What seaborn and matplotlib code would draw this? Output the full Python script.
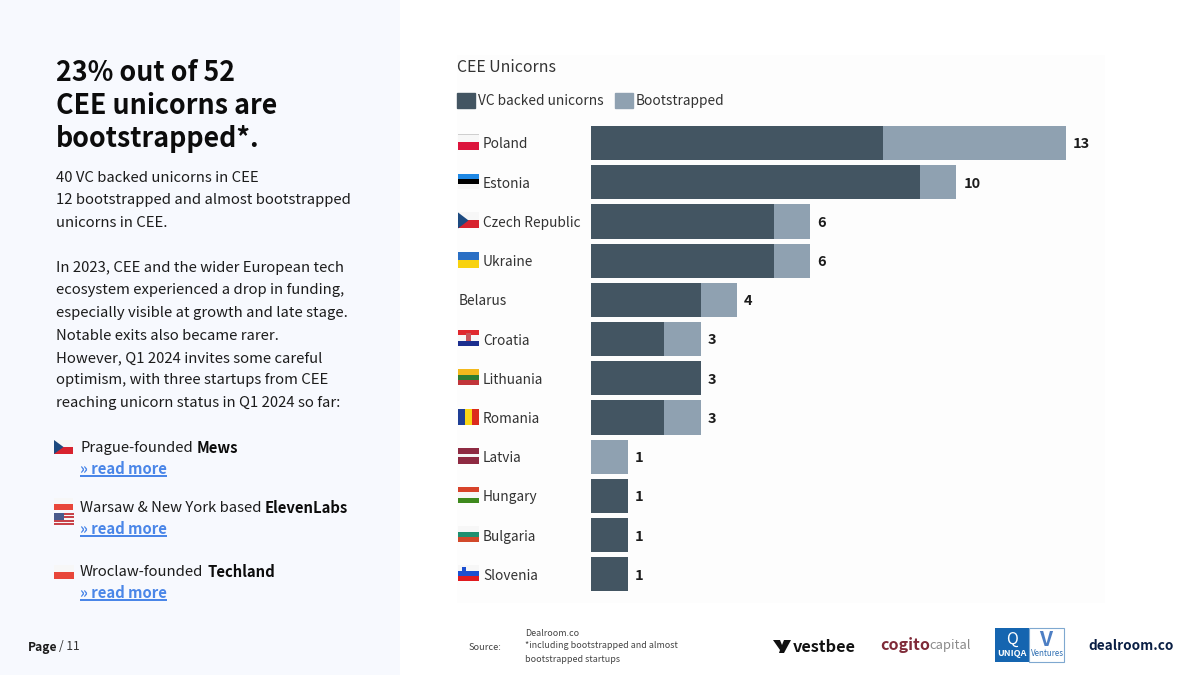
import matplotlib
matplotlib.use("Agg")
import matplotlib.pyplot as plt
from matplotlib.patches import Rectangle, Polygon, Patch
import pandas as pd
import seaborn as sns

# chart data
countries = ["Poland", "Estonia", "Czech Republic", "Ukraine", "Belarus", "Croatia",
             "Lithuania", "Romania", "Latvia", "Hungary", "Bulgaria", "Slovenia"]
vc_backed = [8, 9, 5, 5, 3, 2, 3, 2, 0, 1, 1, 1]
bootstrapped = [5, 1, 1, 1, 1, 1, 0, 1, 1, 0, 0, 0]

title_lines = ["23% out of 52", "CEE unicorns are", "bootstrapped*."]
body_lines = [(177, "40 VC backed unicorns in CEE"),
              (199, "12 bootstrapped and almost bootstrapped"),
              (222, "unicorns in CEE."),
              (267, "In 2023, CEE and the wider European tech"),
              (289, "ecosystem experienced a drop in funding,"),
              (312, "especially visible at growth and late stage."),
              (335, "Notable exits also became rarer."),
              (357, "However, Q1 2024 invites some careful"),
              (379, "optimism, with three startups from CEE"),
              (402, "reaching unicorn status in Q1 2024 so far:")]

DARK = "#435562"
LIGHT = "#8fa1b1"
INK = "#1c1c1c"
FONT = ["Noto Sans CJK SC", "DejaVu Sans"]
BODY = 14.85

sns.set_theme(style="white")
plt.rcParams["font.family"] = FONT

fig = plt.figure(figsize=(12, 6.75), dpi=100, facecolor="white")

# full page layer in pixel coordinates for the slide furniture
page = fig.add_axes([0, 0, 1, 1], zorder=0)
page.set_xlim(0, 1200)
page.set_ylim(675, 0)
page.axis("off")


def px(size):
    return size * 0.72


def txt(x, y, s, size=16, weight="normal", color=INK, **kw):
    return page.text(x, y, s, fontsize=px(size), fontweight=weight, color=color,
                     va="center", ha=kw.pop("ha", "left"), **kw)


def box(x, y, w, h, color, **kw):
    page.add_patch(Rectangle((x, y), w, h, facecolor=color, edgecolor="none", **kw))


def hflag(x, y, colors, w=20, h=16):
    # horizontal striped flag
    step = h / len(colors)
    for i, c in enumerate(colors):
        box(x, y + i * step, w, step, c)


def vflag(x, y, colors, w=20, h=16):
    step = w / len(colors)
    for i, c in enumerate(colors):
        box(x + i * step, y, step, h, c)


def czech(x, y, w=20, h=16):
    hflag(x, y, ["#f7f7f7", "#d8232f"], w, h)
    page.add_patch(Polygon([(x, y), (x + w * 0.5, y + h / 2), (x, y + h)],
                           facecolor="#1d4a80", edgecolor="none"))


# backgrounds
box(0, 0, 400, 675, "#f7f9fe")
box(457, 55, 648, 548, "#fdfdfd")

# left text
for y, line in zip([73, 106, 139], title_lines):
    txt(56, y, line, size=26.8, weight="bold", color="#0c0c0c")
for y, line in body_lines:
    txt(56, y + 1, line, size=BODY)

czech(54, 440, 19, 14)
txt(80, 448, "Prague-founded", size=BODY)
txt(197, 448, "Mews", size=BODY, weight="bold", color="#0c0c0c")

hflag(54, 498, ["#f7f7f7", "#e8463a"], 19, 12)
hflag(54, 513, ["#c8434a", "#f7f7f7"] * 3 + ["#c8434a"], 20, 12)
box(54, 513, 10, 6.5, "#4a5a8c")
txt(80, 508, "Warsaw & New York based", size=BODY)
txt(265, 508, "ElevenLabs", size=BODY, weight="bold", color="#0c0c0c")

hflag(54, 565, ["#f7f7f7", "#e8463a"], 20, 14)
txt(80, 572, "Wroclaw-founded", size=BODY)
txt(208, 572, "Techland", size=BODY, weight="bold", color="#0c0c0c")

for y in [468, 528, 592]:
    txt(80, y + 1, "» read more", size=BODY, weight="bold", color="#4a86e8")
    box(80, y + 7, 87, 2, "#4a86e8")

txt(28, 647, "Page", size=12, weight="bold")
txt(59, 647, "/ 11", size=12, color="#333333")

# chart
txt(457, 67, "CEE Unicorns", size=15.8, color="#333333")

df = pd.DataFrame({"country": countries, "vc": vc_backed, "boot": bootstrapped})
df["total"] = df["vc"] + df["boot"]

row = 39.22
ax_top = 143 - row / 2
ax_h = row * len(countries)
ax_w = 36.54 * 13
ax = fig.add_axes([591 / 1200, 1 - (ax_top + ax_h) / 675, ax_w / 1200, ax_h / 675], zorder=1)
ax.patch.set_alpha(0)

sns.barplot(data=df, y="country", x="total", color=LIGHT, width=0.87, saturation=1,
            linewidth=0, ax=ax)
sns.barplot(data=df, y="country", x="vc", color=DARK, width=0.87, saturation=1,
            linewidth=0, ax=ax)

value_labels = ax.bar_label(ax.containers[0], labels=[str(v) for v in df["total"]], padding=5,
                            fontsize=px(14.5), fontweight="bold", color=INK)
for t in value_labels:
    t.xyann = (t.xyann[0], -1)
ax.set_xlim(0, 13)
ax.set_xlabel("")
ax.set_ylabel("")
ax.set_xticks([])
sns.despine(ax=ax, left=True, bottom=True)
ax.tick_params(axis="y", length=0, pad=(591 - 483) * 0.72, labelsize=px(13.7), labelcolor="#333333")
ax.yaxis.get_major_ticks()[4].set_pad((591 - 459) * 0.72)
for label in ax.get_yticklabels():
    label.set_ha("left")

fig.legend(handles=[Patch(color=DARK), Patch(color=LIGHT)],
           labels=["VC backed unicorns", "Bootstrapped"],
           loc="upper left", bbox_to_anchor=(457 / 1200, 1 - 92.5 / 675), ncol=2,
           frameon=False, borderpad=0, borderaxespad=0, fontsize=px(13.7),
           handlelength=18 / 13.7, handleheight=19 / 13.7, handletextpad=3 / 13.7,
           columnspacing=11 / 13.7, labelcolor="#333333")

# flags next to the country labels
centres = {c: 142 + i * row for i, c in enumerate(countries)}


def fy(name, h=16):
    return centres[name] - h / 2


FX = 458
hflag(FX, fy("Poland"), ["#f7f7f7", "#dc143c"], 21)
box(FX, fy("Poland"), 21, 0.8, "#cfcfcf")
hflag(FX, fy("Estonia", 15), ["#1e88e5", "#000000", "#f7f7f7"], 21, 15)
czech(FX, fy("Czech Republic"), 21)
hflag(FX, fy("Ukraine"), ["#2a6fc4", "#f8d20f"], 21)
hflag(FX, fy("Croatia"), ["#e0282e", "#f7f7f7", "#1c2f8f"], 21)
box(FX + 8, fy("Croatia") + 3, 5, 8, "#c8545a")
hflag(FX, fy("Lithuania"), ["#f3b91d", "#2e7d32", "#c1353a"], 21)
vflag(FX, fy("Romania"), ["#1f3f96", "#f9d616", "#dc2a1c"], 21)
hflag(FX, fy("Latvia"), ["#8e2a42", "#8e2a42", "#f5f5f5", "#8e2a42", "#8e2a42"], 21)
hflag(FX, fy("Hungary"), ["#d8432a", "#f7f7f7", "#3f8a1e"], 21)
hflag(FX, fy("Bulgaria"), ["#f7f7f7", "#1f9070", "#d2492a"], 21)
hflag(FX, fy("Slovenia"), ["#f7f7f7", "#1c4fd0", "#e01a1f"], 21)
box(FX + 4, fy("Slovenia") + 2, 3.5, 3.5, "#1c4fd0")

# footer
txt(469, 647, "Source:", size=9.2, color="#444444")
txt(525, 633, "Dealroom.co", size=8.95, color="#444444")
txt(525, 646, "*including bootstrapped and almost", size=8.95, color="#444444")
txt(525, 659, "bootstrapped startups", size=8.95, color="#444444")

# partner logos
page.add_patch(Polygon([(773, 640), (780, 640), (782, 645), (784, 640), (791, 640),
                        (784, 653), (779, 653), (780, 650)], facecolor="#111111", edgecolor="none"))
txt(793, 647, "vestbee", size=16.3, weight="bold", color="#111111")
txt(880, 645, "cogito", size=16, weight="bold", color="#7f2a38")
txt(929, 645, "capital", size=13, color="#8a8a8a")
box(995, 628, 34, 34, "#1565b0")
page.add_patch(Rectangle((1029, 628), 35, 34, facecolor="white", edgecolor="#7fa8d0", linewidth=0.8))
txt(1012, 654, "UNIQA", size=9, weight="bold", color="white", ha="center")
txt(1012, 639, "Q", size=16, color="white", ha="center")
txt(1046, 640, "V", size=21, weight="bold", color="#4d7fc4", ha="center")
txt(1047, 654, "Ventures", size=8, color="#2f6fb3", ha="center")
txt(1088, 646, "dealroom.co", size=13.5, weight="bold", color="#0a1f44")

fig.savefig("out.png", dpi=100)
